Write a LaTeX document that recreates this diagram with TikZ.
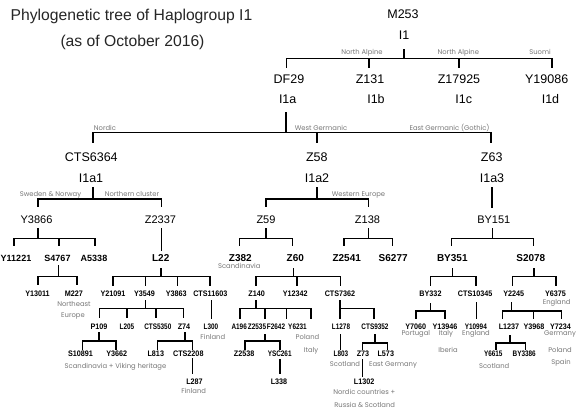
\documentclass[tikz,border=0pt]{standalone}
\usepackage{fontspec}
\setmainfont{Liberation Sans}
\newfontfamily\nbfont[FakeStretch=0.9]{Liberation Sans}
\newfontfamily\nnfont[FakeStretch=0.8]{Liberation Sans}
\newfontfamily\labfont{Poppins}
\definecolor{labgray}{HTML}{777777}
\newcommand\stem[4][0]{\draw[ln] ([xshift=#1pt,yshift=-#3pt]#2.base) -- ([xshift=#1pt]#2.base |- #4);}
\newcommand\tick[4][0]{\draw[ln] ([xshift=#1pt]#2.base |- #3) -- ([xshift=#1pt,yshift=#4pt]#2.base);}
\newcommand\barline[5]{\draw[ln] ([xshift=#2pt]#1.base |- #5) -- ([xshift=#4pt]#3.base |- #5);}
\tikzset{
 every node/.style={inner sep=0pt, outer sep=0pt, anchor=base},
 nA/.style={font=\fontsize{12.5}{14}\selectfont},
 nB/.style={font=\fontsize{11}{13}\selectfont},
 nC/.style={font=\bfseries\fontsize{10}{12}\selectfont},
 nCb/.style={font=\bfseries\fontsize{9}{11}\selectfont},
 nD/.style={font=\nbfont\bfseries\fontsize{8}{10}\selectfont},
 nDn/.style={font=\nnfont\bfseries\fontsize{8}{10}\selectfont},
 blab/.style={font=\labfont\fontsize{6.8}{8}\selectfont, text=labgray},
 ttl/.style={font=\fontsize{15.7}{18}\selectfont, text=black!85},
 ln/.style={line width=1.4pt, line cap=rect},
}
\begin{document}
\begin{tikzpicture}[x=1pt,y=-1pt]
\path[use as bounding box, fill=white] (0,0) rectangle (579,412);
% title
\node[ttl] (t1) at (131.5,21) {Phylogenetic tree of Haplogroup I1};
\node[ttl] (t2) at (132.5,46.7) {(as of October 2016)};
% level A
\node[nA] (M253) at (403,18.3) {M253};
\node[nA] (I1) at (404,40) {I1};
\node[nA] (DF29) at (289,83.3) {DF29};
\node[nA] (Z131) at (370,83.3) {Z131};
\node[nA] (Z17925) at (459,83.3) {Z17925};
\node[nA] (Y19086) at (546.7,83.3) {Y19086};
\node[nA] (I1a) at (287.7,104) {I1a};
\node[nA] (I1b) at (376,104) {I1b};
\node[nA] (I1c) at (463.7,104) {I1c};
\node[nA] (I1d) at (550.5,104) {I1d};
\node[nA] (CTS6364) at (91.3,161) {CTS6364};
\node[nA] (Z58) at (316.8,161) {Z58};
\node[nA] (Z63) at (491.7,161) {Z63};
\node[nA] (I1a1) at (91,182.7) {I1a1};
\node[nA] (I1a2) at (317,182.7) {I1a2};
\node[nA] (I1a3) at (492,182.7) {I1a3};
% level B
\node[nB] (Y3866) at (36.5,223) {Y3866};
\node[nB] (Z2337) at (160.5,223) {Z2337};
\node[nB] (Z59) at (266,223) {Z59};
\node[nB] (Z138) at (367.5,223) {Z138};
\node[nB] (BY151) at (493.8,223) {BY151};
% level C
\node[nCb] (Y11221) at (16,261) {Y11221};
\node[nCb] (S4767) at (57.5,261) {S4767};
\node[nCb] (A5338) at (94,261) {A5338};
\node[nC] (L22) at (160.7,261) {L22};
\node[nC] (Z382) at (240.3,261) {Z382};
\node[nC] (Z60) at (295.3,261) {Z60};
\node[nC] (Z2541) at (346.7,261) {Z2541};
\node[nC] (S6277) at (393.2,261) {S6277};
\node[nC] (BY351) at (452.3,261) {BY351};
\node[nC] (S2078) at (530.8,261) {S2078};
% row 6
\node[nD] (Y13011) at (37.5,296.5) {Y13011};
\node[nD] (M227) at (74,296.5) {M227};
\node[nD] (Y21091) at (113,296.5) {Y21091};
\node[nD] (Y3549) at (144.5,296.5) {Y3549};
\node[nD] (Y3863) at (176.3,296.5) {Y3863};
\node[nD] (CTS11603) at (210.3,296.5) {CTS11603};
\node[nD] (Z140) at (256.7,296.5) {Z140};
\node[nD] (Y12342) at (295.2,296.5) {Y12342};
\node[nD] (CTS7362) at (340,296.5) {CTS7362};
\node[nD] (BY332) at (430.5,296.5) {BY332};
\node[nD] (CTS10345) at (475.2,296.5) {CTS10345};
\node[nD] (Y2245) at (513.8,296.5) {Y2245};
\node[nD] (Y6375) at (555.5,296.5) {Y6375};
% row 7
\node[nD] (P109) at (99,329) {P109};
\node[nDn] (L205) at (127,329) {L205};
\node[nDn] (CTS5350) at (157.8,329) {CTS5350};
\node[nD] (Z74) at (184,329) {Z74};
\node[nDn] (L300) at (211,329) {L300};
\node[nDn] (A196) at (239.2,329) {A196};
\node[nDn] (Z2535) at (257,329) {Z2535};
\node[nDn] (F2642) at (276,329) {F2642};
\node[nDn] (Y6231) at (297.5,329) {Y6231};
\node[nDn] (L1278) at (341,329) {L1278};
\node[nDn] (CTS9352) at (375,329) {CTS9352};
\node[nD] (Y7060) at (415.8,329) {Y7060};
\node[nD] (Y13946) at (445,329) {Y13946};
\node[nDn] (Y10994) at (475.8,329) {Y10994};
\node[nD] (L1237) at (509,329) {L1237};
\node[nD] (Y3968) at (534,329) {Y3968};
\node[nD] (Y7234) at (560.5,329) {Y7234};
% row 8
\node[nD] (S10891) at (80.5,356.7) {S10891};
\node[nD] (Y3662) at (116.8,356.7) {Y3662};
\node[nD] (L813) at (155.8,356.7) {L813};
\node[nD] (CTS2208) at (188.3,356.7) {CTS2208};
\node[nD] (Z2538) at (244.2,356.7) {Z2538};
\node[nDn] (YSC261) at (279.7,356.7) {YSC261};
\node[nDn] (L803) at (341,356.7) {L803};
\node[nD] (Z73) at (363,356.7) {Z73};
\node[nD] (L573) at (385.8,356.7) {L573};
\node[nDn] (Y6615) at (493.3,356.7) {Y6615};
\node[nDn] (BY3386) at (524.2,356.7) {BY3386};
% row 9
\node[nD] (L287) at (194.5,384.5) {L287};
\node[nD] (L338) at (279,384.5) {L338};
\node[nD] (L1302) at (364.2,384.5) {L1302};
% branch labels
\node[blab] (gNA1) at (362,54.3) {North Alpine};
\node[blab] (gNA2) at (458.3,54.3) {North Alpine};
\node[blab] (gSuomi) at (540,54.3) {Suomi};
\node[blab] (gNordic) at (105,130.5) {Nordic};
\node[blab] (gWG) at (321,130.5) {West Germanic};
\node[blab] (gEG) at (449.5,130.5) {East Germanic (Gothic)};
\node[blab] (gSN) at (50.5,196.7) {Sweden \& Norway};
\node[blab] (gNC) at (132,196.7) {Northern cluster};
\node[blab] (gWE) at (358.5,196.7) {Western Europe};
% annotations
\node[blab] (aScand) at (239.3,268) {Scandinavia};
\node[blab] (aEng1) at (556.7,304) {England};
\node[blab] (aNE) at (74,306.5) {Northeast};
\node[blab] (aEur) at (73,317.5) {Europe};
\node[blab] (aFin1) at (212.8,339) {Finland};
\node[blab] (aPol1) at (307.5,339) {Poland};
\node[blab] (aIta1) at (311,352) {Italy};
\node[blab] (aPor) at (415.8,335) {Portugal};
\node[blab] (aIta2) at (445.8,335) {Italy};
\node[blab] (aIbe) at (448,352) {Iberia};
\node[blab] (aEng2) at (476,335) {England};
\node[blab] (aGer) at (560,335) {Germany};
\node[blab] (aPol2) at (560,352) {Poland};
\node[blab] (aSpa) at (561,364) {Spain};
\node[blab] (aSVH) at (115.5,368.5) {Scandinavia + Viking heritage};
\node[blab] (aSco1) at (345,366) {Scotland};
\node[blab] (aEG) at (393,366) {East Germany};
\node[blab] (aSco2) at (494.2,368) {Scotland};
\node[blab] (aFin2) at (193.7,393) {Finland};
\node[blab] (aNor) at (364.3,394) {Nordic countries +};
\node[blab] (aRus) at (364.7,407) {Russia \& Scotland};
% bar levels
\coordinate (b1) at (0,58.3);
\coordinate (b2) at (0,132.3);
\coordinate (b3) at (0,199);
\coordinate (b4) at (0,238.3);
\coordinate (b5) at (0,276.3);
\coordinate (b6) at (0,308.6);
\coordinate (b6r) at (0,311);
\coordinate (b7) at (0,341);
\coordinate (b7r) at (0,343);
% I1
\stem{I1}{10}{b1}
\barline{DF29}{-2.3}{Y19086}{5.3}{b1}
\tick[-2.3]{DF29}{b1}{16.3}
\tick[-1]{Z131}{b1}{16.3}
\tick{Z17925}{b1}{16.3}
\tick[5.3]{Y19086}{b1}{16.3}
% I1a
\stem[-1.7]{I1a}{9}{b2}
\barline{CTS6364}{1.7}{Z63}{-0.7}{b2}
\tick[1.7]{CTS6364}{b2}{18.7}
\tick{Z58}{b2}{18.7}
\tick[-0.7]{Z63}{b2}{18.7}
% I1a1
\stem[2]{I1a1}{5.3}{b3}
\barline{Y3866}{1.5}{Z2337}{1.2}{b3}
\tick[1.5]{Y3866}{b3}{16.3}
\tick[1.2]{Z2337}{b3}{16.3}
% I1a2
\stem{I1a2}{5.3}{b3}
\barline{Z59}{0}{Z138}{0.8}{b3}
\tick{Z59}{b3}{16.3}
\tick[0.8]{Z138}{b3}{16.3}
% I1a3 -> BY151
\draw[ln] ([yshift=-5.3pt]I1a3.base) -- ([xshift=-1.8pt,yshift=16pt]BY151.base);
% Y3866
\stem[1.5]{Y3866}{6}{b4}
\barline{Y11221}{-2}{A5338}{1}{b4}
\tick[-2]{Y11221}{b4}{16}
\tick[1.5]{S4767}{b4}{16}
\tick[1]{A5338}{b4}{16}
% Z2337 -> L22
\draw[ln] ([xshift=1.2pt,yshift=-6pt]Z2337.base) -- ([xshift=1pt,yshift=11pt]L22.base);
% Z59
\stem{Z59}{6}{b4}
\barline{Z382}{-1}{Z60}{-3}{b4}
\tick[-1]{Z382}{b4}{16}
\tick[-3]{Z60}{b4}{16}
% Z138
\stem[0.8]{Z138}{6}{b4}
\barline{Z2541}{-2.7}{S6277}{-0.5}{b4}
\tick[-2.7]{Z2541}{b4}{16}
\tick[-0.5]{S6277}{b4}{16}
% BY151
\stem[-1.1]{BY151}{6}{b4}
\barline{BY351}{-0.6}{S2078}{2.5}{b4}
\tick[-0.6]{BY351}{b4}{16}
\tick[2.5]{S2078}{b4}{16}
% S4767
\stem[1.2]{S4767}{4.7}{b5}
\barline{Y13011}{0.5}{M227}{3}{b5}
\tick[0.5]{Y13011}{b5}{12.5}
\tick[3]{M227}{b5}{12.5}
% L22
\stem[0.3]{L22}{7.5}{b5}
\barline{Y21091}{0}{CTS11603}{-0.3}{b5}
\tick{Y21091}{b5}{11.5}
\tick[1.2]{Y3549}{b5}{11.5}
\tick[1]{Y3863}{b5}{11.5}
\tick[-0.3]{CTS11603}{b5}{11.5}
% Z60
\stem[-2]{Z60}{7.5}{b5}
\barline{Z140}{-0.7}{CTS7362}{0.3}{b5}
\tick[-0.7]{Z140}{b5}{11.5}
\tick[1.8]{Y12342}{b5}{11.5}
\tick[0.3]{CTS7362}{b5}{11.5}
% BY351
\stem[0.4]{BY351}{7.5}{b5}
\barline{BY332}{0.2}{CTS10345}{0.8}{b5}
\tick[0.2]{BY332}{b5}{11.5}
\tick[0.8]{CTS10345}{b5}{11.5}
% S2078
\stem[3.2]{S2078}{7.5}{b5}
\barline{Y2245}{-1.1}{Y6375}{0.5}{b5}
\tick[-1.1]{Y2245}{b5}{11.5}
\tick[0.5]{Y6375}{b5}{11.5}
% Y3549
\stem[1.2]{Y3549}{4.2}{b6}
\barline{P109}{0.3}{Z74}{-0.7}{b6}
\tick[0.3]{P109}{b6}{11.3}
\tick{L205}{b6}{11.3}
\tick[-1.8]{CTS5350}{b6}{11.3}
\tick[-0.7]{Z74}{b6}{11.3}
% CTS11603 -> L300
\draw[ln] ([xshift=1.4pt,yshift=-4.2pt]CTS11603.base) -- ([xshift=0.7pt,yshift=11pt]L300.base);
% Z140
\stem[-0.7]{Z140}{4.2}{b6}
\barline{A196}{0.8}{Y6231}{13.5}{b6}
\tick[0.8]{A196}{b6}{11}
\tick[8]{Z2535}{b6}{11}
\tick[10.7]{F2642}{b6}{11}
\tick[13.5]{Y6231}{b6}{11}
% CTS7362
\draw[ln] ([yshift=-4.2pt]CTS7362.base) -- ([xshift=-1pt,yshift=11pt]L1278.base);
\draw[ln] (CTS7362.base |- b6) -- ([xshift=-1pt]CTS9352.base |- b6);
\tick[-1]{CTS9352}{b6}{11}
% BY332
\stem[0.2]{BY332}{7}{b6r}
\barline{Y7060}{0}{Y13946}{0}{b6r}
\tick{Y7060}{b6r}{11}
\tick{Y13946}{b6r}{11}
% CTS10345 -> Y10994
\draw[ln] ([xshift=1.5pt,yshift=-6pt]CTS10345.base) -- ([xshift=0.9pt,yshift=11pt]Y10994.base);
% Y2245
\stem[-2.1]{Y2245}{6.5}{b6r}
\barline{L1237}{-6.3}{Y7234}{1.2}{b6r}
\tick[-6.3]{L1237}{b6r}{11}
\tick[-0.7]{Y3968}{b6r}{11}
\tick[1.2]{Y7234}{b6r}{11}
% P109
\stem{P109}{4}{b7}
\barline{S10891}{2.2}{Y3662}{-0.8}{b7}
\tick[2.2]{S10891}{b7}{7.7}
\tick[-0.8]{Y3662}{b7}{7.7}
% Z74
\stem[1]{Z74}{4}{b7}
\barline{L813}{1.5}{CTS2208}{4.4}{b7}
\tick[1.5]{L813}{b7}{7.7}
\tick[4.4]{CTS2208}{b7}{7.7}
% CTS2208 -> L287
\draw[ln] ([xshift=4.4pt,yshift=-2.3pt]CTS2208.base) -- ([xshift=-1.8pt,yshift=11.5pt]L287.base);
% Z2535
\stem[8]{Z2535}{6}{b7}
\barline{Z2538}{0.8}{YSC261}{0.3}{b7}
\tick[0.8]{Z2538}{b7}{7.7}
\tick[0.3]{YSC261}{b7}{7.7}
% YSC261 -> L338
\draw[ln] ([xshift=0.3pt,yshift=-2.6pt]YSC261.base) -- ([xshift=1pt,yshift=11pt]L338.base);
% L1278 -> L803
\draw[ln] ([xshift=-0.3pt,yshift=-6pt]L1278.base) -- ([xshift=-0.3pt,yshift=7.4pt]L803.base);
% CTS9352
\stem{CTS9352}{6}{b7r}
\barline{Z73}{-0.3}{L573}{1.5}{b7r}
\tick[-0.3]{Z73}{b7r}{7.4}
\tick[1.5]{L573}{b7r}{7.4}
% Z73 -> L1302
\draw[ln] ([xshift=-0.3pt,yshift=-3.3pt]Z73.base) -- ([xshift=-1.5pt,yshift=8.5pt]L1302.base);
% L1237
\stem[1]{L1237}{7}{b7r}
\barline{Y6615}{2.7}{BY3386}{1.5}{b7r}
\tick[2.7]{Y6615}{b7r}{7.7}
\tick[1.5]{BY3386}{b7r}{7.7}
\end{tikzpicture}
\end{document}
